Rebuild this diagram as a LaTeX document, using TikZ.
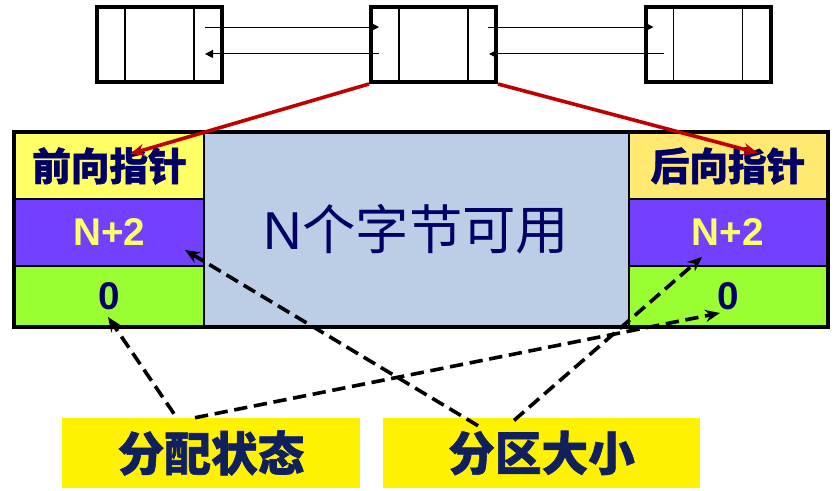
\documentclass[tikz,border=0pt]{standalone}
\usepackage{fontspec}
\setmainfont{Liberation Sans}
\newfontfamily\cjk{Noto Sans CJK SC}[BoldFeatures={FakeBold=1.2}]
\usetikzlibrary{arrows.meta}
\definecolor{navy}{HTML}{000066}
\definecolor{labelblue}{HTML}{10205F}
\definecolor{lemon}{HTML}{FFFF66}
\definecolor{amber}{HTML}{FFE970}
\definecolor{violet}{HTML}{7340FF}
\definecolor{lime}{HTML}{99FF33}
\definecolor{paleblue}{HTML}{BCCDE6}
\definecolor{linkred}{HTML}{C00000}
\tikzset{%
	block/.style={draw,line width=3pt,minimum width=93.75pt,minimum height=56.25pt,inner sep=0pt},
	field/.style={draw,line width=1pt,inner sep=0pt,minimum width=141.75pt,font=\bfseries\fontsize{29}{30}\selectfont},
	link/.style={-{Triangle[length=6pt,width=6pt]},line width=0.7pt},
	redlink/.style={-{Stealth[length=11pt,width=9pt]},linkred,line width=2.7pt},
	hint/.style={-{Stealth[length=11pt,width=9pt]},dash pattern=on 10pt off 5pt,line width=2.7pt},
	tag/.style={fill=yellow,inner sep=0pt,minimum width=223.5pt,minimum height=52.5pt,text=labelblue,font=\cjk\bfseries\fontsize{35}{36}\selectfont},
}

\begin{document}
\begin{tikzpicture}[x=0.75pt,y=-0.75pt]
	\useasboundingbox (0,0) rectangle (840,491);
	% doubly linked blocks
	\foreach \n/\x in {b1/159.5,b2/433.5,b3/708}{
		\node[block] (\n) at (\x,44.5) {};
		\draw[line width=0.8pt] ([xshift=22.5pt]\n.north west) -- ([xshift=22.5pt]\n.south west);
		\draw[line width=0.8pt] ([xshift=-22.5pt]\n.north east) -- ([xshift=-22.5pt]\n.south east);
	}
	\draw[link] ([xshift=-14.25pt,yshift=13.1pt]b1.east) -- ([xshift=7.5pt,yshift=13.1pt]b2.west);
	\draw[link] ([xshift=7.5pt,yshift=-7.1pt]b2.west) -- ([xshift=-14.25pt,yshift=-7.1pt]b1.east);
	\draw[link] ([xshift=-7.5pt,yshift=13.1pt]b2.east) -- ([xshift=7.5pt,yshift=13.1pt]b3.west);
	\draw[link] ([xshift=15pt,yshift=-7.1pt]b3.west) -- ([xshift=-6.75pt,yshift=-7.1pt]b2.east);
	% one partition
	\node[field,fill=lemon,minimum height=49.5pt,text=navy] (fwd) at (109.5,166) {\cjk 前向指针};
	\node[field,fill=violet,minimum height=50.25pt,text=lemon] (lsize) at (109.5,232.5) {N+2};
	\node[field,fill=lime,minimum height=45pt,text=navy] (lstat) at (109.5,296) {0};
	\node[draw,line width=1pt,fill=paleblue,minimum width=318.75pt,minimum height=144.75pt,text=navy,font=\fontsize{40}{44}\selectfont] (free) at (416.5,229.5) {N\cjk 个字节可用};
	\node[field,fill=amber,minimum width=148.5pt,minimum height=49.5pt,text=navy] (bwd) at (728,166) {\cjk 后向指针};
	\node[field,fill=violet,minimum width=148.5pt,minimum height=50.25pt,text=lemon] (rsize) at (728,232.5) {N+2};
	\node[field,fill=lime,minimum width=148.5pt,minimum height=45pt,text=navy] (rstat) at (728,296) {0};
	\draw[line width=3pt] (fwd.north west) rectangle (rstat.south east);
	\draw[redlink] (b2.south west) -- ([xshift=15.4pt,yshift=9pt]fwd.center);
	\draw[redlink] (b2.south east) -- ([xshift=22.5pt,yshift=9.75pt]bwd.center);
	% labels
	\node[tag] (alloc) at (211,453) {分配状态};
	\node[tag,minimum width=237.75pt] (part) at (541.5,453) {分区大小};
	\draw[hint] ([xshift=-27.75pt,yshift=3pt]alloc.north) -- ([xshift=-1.1pt,yshift=-15.75pt]lstat.center);
	\draw[hint] ([xshift=-12pt]alloc.north) -- ([xshift=-6pt,yshift=-12.75pt]rstat.center);
	\draw[hint] ([xshift=-47.6pt,yshift=-6pt]part.north) -- ([xshift=56.6pt,yshift=-13.1pt]lsize.center);
	\draw[hint] ([xshift=-20.6pt,yshift=-2pt]part.north) -- ([xshift=-19.5pt,yshift=-18.4pt]rsize.center);
\end{tikzpicture}
\end{document}
